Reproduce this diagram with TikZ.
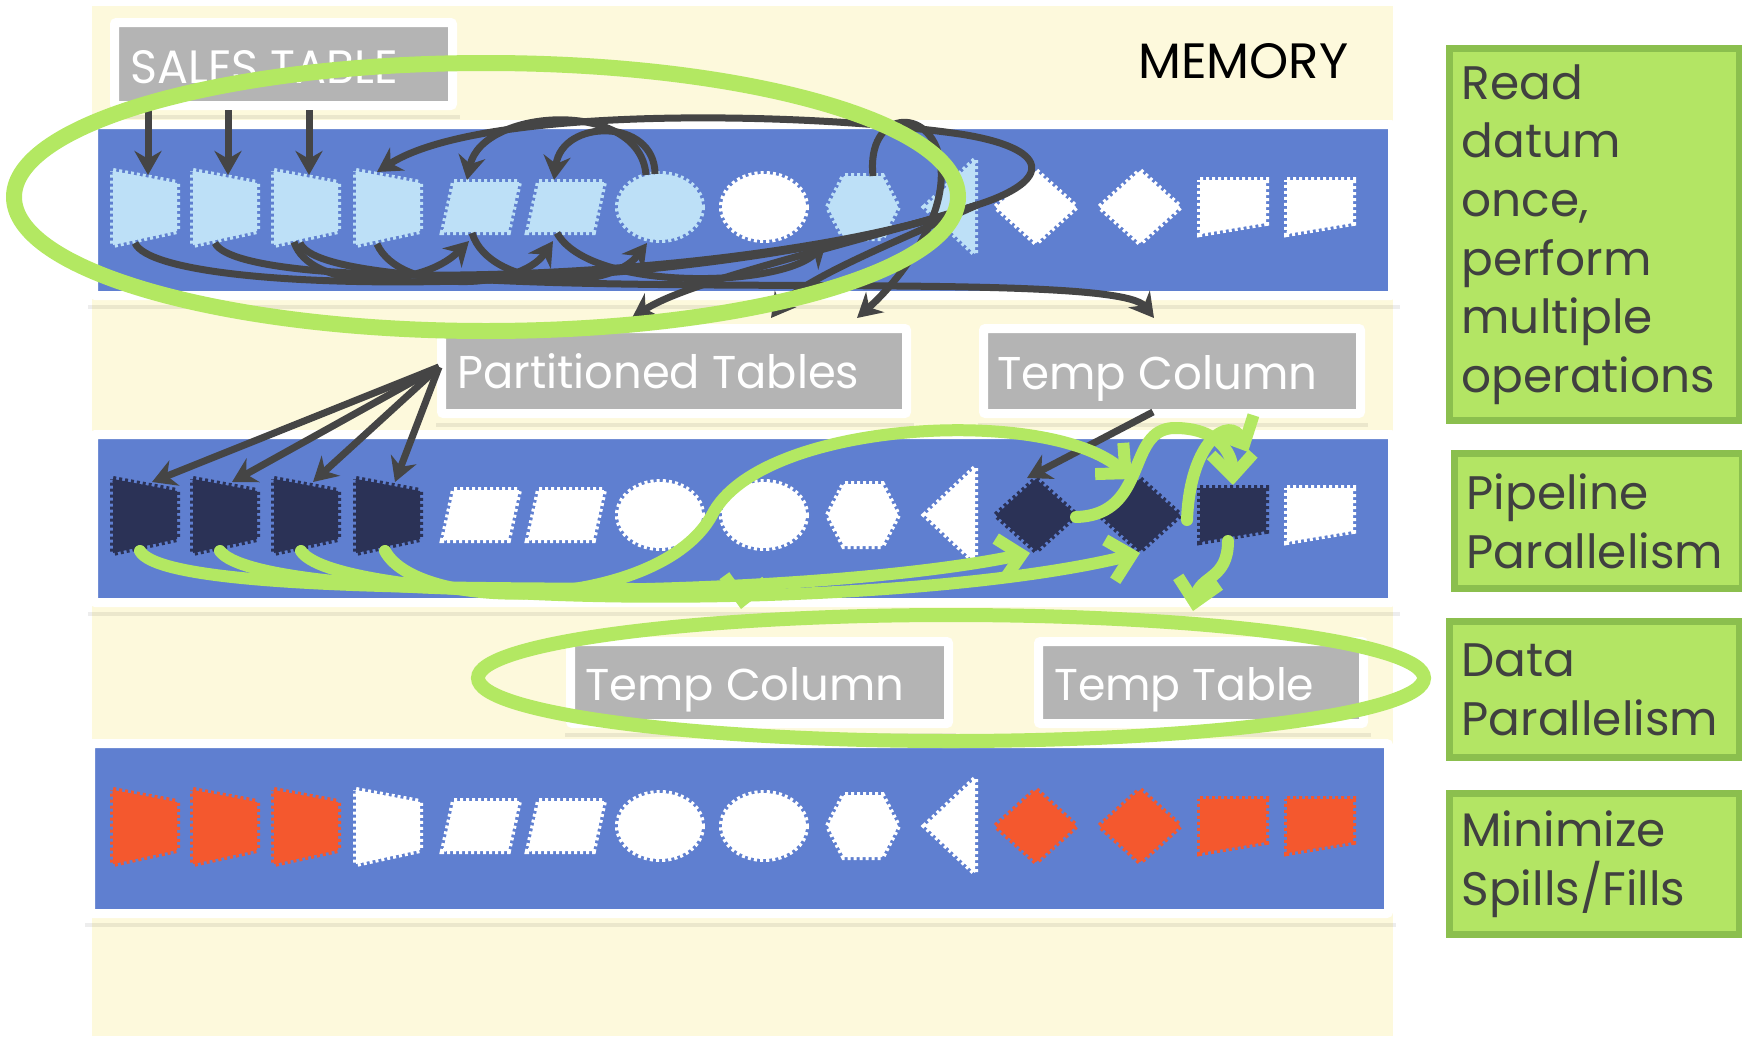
\documentclass[tikz,border=0pt]{standalone}
\usepackage{fontspec}
\usepackage{graphicx}
\usetikzlibrary{positioning,arrows.meta,calc}
\newfontfamily\gothic{Poppins}
\definecolor{cream}{HTML}{FDF9DC}
\definecolor{bandblue}{HTML}{5F7FD0}
\definecolor{lblue}{HTML}{BDE0F7}
\definecolor{navy}{HTML}{2B3256}
\definecolor{tred}{HTML}{F4582E}
\definecolor{lgray}{HTML}{B4B4B4}
\definecolor{dgray}{HTML}{454545}
\definecolor{lgreen}{HTML}{B3E862}
\definecolor{boxgreen}{HTML}{B3E564}
\definecolor{boxedge}{HTML}{8BBF4E}
\definecolor{txtgray}{HTML}{404040}
% outlines of the stamps round (0,0), y pointing down
\newcommand{\shptrap}{(-32,-36) -- (32,-24) -- (32,24) -- (-32,38) -- cycle}
\newcommand{\shppara}{(-27,-25) -- (38,-25) -- (27,25) -- (-38,25) -- cycle}
\newcommand{\shpoval}{(0,0) ellipse [x radius=42, y radius=33]}
\newcommand{\shphexa}{(-35,0) -- (-19,-31) -- (19,-31) -- (35,0) -- (19,31) -- (-19,31) -- cycle}
\newcommand{\shptri}{(23,-47) -- (23,47) -- (-27,0) -- cycle}
\newcommand{\shpdia}{(-40,0) -- (0,-36) -- (40,0) -- (0,36) -- cycle}
\newcommand{\shpsq}{(-33,-27) -- (33,-27) -- (33,16) -- (-33,27) -- cycle}
\newcommand{\fitlbl}[3]{\resizebox{#1pt}{#2pt}{\gothic #3}}

\begin{document}
\begin{tikzpicture}[x=1pt, y=-1pt,
  band/.style={fill=bandblue, draw=white, line width=9pt, inner sep=0pt, rounded corners=2pt},
  lbl/.style={fill=lgray, draw=white, line width=9pt, inner sep=0pt, rounded corners=2pt},
  shade/.style={fill=black, opacity=0.07},
  lbltext/.style={text=white, inner sep=0pt, anchor=base west},
  stamp/.style={draw=#1, fill=#1, line width=6pt, dash pattern=on 3pt off 3pt},
  darr/.style={draw=dgray, line width=7pt, -{Stealth[length=24pt, width=27pt]}},
  dline/.style={draw=dgray, line width=7pt},
  garr/.style={draw=lgreen, line width=12pt, line cap=round, -{Straight Barb[length=22pt, width=42pt]}},
  gring/.style={draw=lgreen, line width=#1},
  gbox/.style={fill=boxgreen, draw=boxedge, line width=7pt, text=txtgray, anchor=north west,
    align=left, inner sep=12pt, font=\gothic\fontsize{47}{58.7}\selectfont}]
\useasboundingbox (0,0) rectangle (1742,1036);
\fill[cream] (92,6) rectangle (1393,1036);

% memory rows
\node[band, minimum width=1299pt, minimum height=171pt] (row1) at (743,210) {};
\node[band, minimum width=1299pt, minimum height=168pt] (row2) at (743,518.5) {};
\node[band, minimum width=1298pt, minimum height=170pt] (row3) at (739.5,828.5) {};

\foreach \k/\x/\t/\ca/\cb/\cc in {1/145/trap/lblue/navy/tred, 2/225/trap/lblue/navy/tred,
    3/306/trap/lblue/navy/tred, 4/388/trap/lblue/navy/white, 5/481/para/lblue/white/white,
    6/566/para/lblue/white/white, 7/660/oval/lblue/white/white, 8/764/oval/white/white/white,
    9/863/hexa/lblue/white/white, 10/952/tri/lblue/white/white, 11/1036/dia/white/navy/tred,
    12/1140/dia/white/navy/tred, 13/1233/sq/white/navy/tred, 14/1320/sq/white/white/tred} {
  \coordinate (r1s\k) at (\x,207);
  \coordinate (r2s\k) at (\x,515);
  \coordinate (r3s\k) at (\x,826);
  \draw[stamp=\ca, shift={(\x,207)}] \csname shp\t\endcsname;
  \draw[stamp=\cb, shift={(\x,515)}] \csname shp\t\endcsname;
  \draw[stamp=\cc, shift={(\x,826)}] \csname shp\t\endcsname;
}

% tables
\node[lbl, minimum width=338pt, minimum height=83pt] (sales) at (283.5,64) {};
\node[lbl, minimum width=465pt, minimum height=85pt] (part) at (674,371) {};
\node[lbl, minimum width=377pt, minimum height=85pt] (tcol) at (1172,371) {};
\node[lbl, minimum width=378pt, minimum height=82pt] (tcol2) at (759.5,682.5) {};
\node[lbl, minimum width=325pt, minimum height=82pt] (ttab) at (1201,682.5) {};
\foreach \n in {row1,row2,row3,sales,part,tcol,tcol2,ttab}
  \fill[shade] ($(\n.south west)+(-1,4.5)$) rectangle ($(\n.south east)+(3,9)$);
\node[lbltext] (salestxt) at (130,83) {\fitlbl{268}{33}{SALES TABLE}};
\node[lbltext] (parttxt) at (457,388) {\fitlbl{402}{35}{Partitioned Tables}};
\node[lbltext] (tcoltxt) at (997,389) {\fitlbl{320}{34}{Temp Column}};
\node[lbltext] (tcol2txt) at (585,700) {\fitlbl{319}{33}{Temp Column}};
\node[lbltext] (ttabtxt) at (1054,700) {\fitlbl{260}{33}{Temp Table}};
\node[anchor=base west, inner sep=0pt] (memory) at (1138,78) {\fitlbl{210}{35}{MEMORY}};

% first row: read once
\foreach \k in {1,2,3} \draw[darr] ($(sales.south -| r1s\k)+(3,0)$) -- ($(r1s\k)+(3,-32)$);
\draw[darr] ($(r1s7)+(-5,-33)$) .. controls (655,118) and (562,118) .. ($(r1s6)+(-12,-27)$);
\draw[darr] ($(r1s7)+(-14,-32)$) .. controls (640,98) and (482,108) .. ($(r1s5)+(-14,-27)$);
\draw[darr] ($(r1s10)+(25,-2)$) .. controls (1055,180) and (1050,148) .. (960,134)
  .. controls (800,111) and (480,106) .. ($(r1s4)+(-11,-35)$);
\draw[darr] ($(r1s9)+(10,-31)$) .. controls (866,110) and (930,105) .. (940,160)
  .. controls (950,215) and (900,280) .. ($(part.north east)+(-54,-6)$);
\draw[darr] ($(r1s3)+(-12,35)$) .. controls (310,290) and (420,290) .. ($(r1s5)+(-12,34)$);
\draw[darr] ($(r1s4)+(-11,37)$) .. controls (400,295) and (520,290) .. ($(r1s6)+(-13,34)$);
\draw[darr] ($(r1s5)+(-9,26)$) .. controls (490,290) and (610,292) .. ($(r1s7)+(-13,36)$);
\draw[darr] ($(r1s6)+(-9,26)$) .. controls (590,292) and (780,288) .. ($(r1s9)+(-37,36)$);
\draw[dline] ($(r1s1)+(-10,36)$) .. controls (160,300) and (700,300) .. ($(r1s10)+(25,-2)$);
\draw[dline] ($(r1s2)+(-10,36)$) .. controls (240,295) and (750,285) .. ($(r1s10)+(25,-2)$);
\draw[darr] ($(r1s10)+(25,-2)$) .. controls (900,240) and (800,280) .. ($(part.north east)+(-140,-6)$);
\draw[darr] ($(r1s10)+(25,-2)$) .. controls (850,245) and (690,280) .. ($(part.north west)+(195,-6)$);
\draw[darr] ($(r1s3)+(-6,36)$) .. controls (330,315) and (1110,262) .. ($(tcol.north west)+(175,-6)$);

% second row: pipeline
\foreach \k in {1,...,4} \draw[darr] ($(part.west)+(2,-4)$) -- ($(r2s\k)+(7,-33)$);
\draw[darr] ($(tcol.south west)+(174,-6)$) -- ($(r2s11)+(-9,-37)$);
\draw[garr] ($(r2s1)+(-5,36)$) .. controls (170,605) and (745,580) .. ($(tcol2.north west)+(175,-28)$);
\draw[garr] ($(r2s2)+(-5,36)$) .. controls (260,605) and (800,600) .. ($(r2s11)+(-6,38)$);
\draw[garr] ($(r2s3)+(-5,36)$) .. controls (340,610) and (900,612) .. ($(r2s12)+(0,38)$);
\draw[garr] ($(r2s4)+(-3,36)$) .. controls (420,615) and (660,610) .. (712,515)
  .. controls (760,420) and (1050,405) .. ($(r2s12)+(-8,-36)$);
\draw[garr] ($(r2s11)+(40,2)$) .. controls (1150,515) and (1125,428) .. (1175,428)
  .. controls (1215,428) and (1232,450) .. ($(r2s13)+(0,-30)$);
\draw[garr] ($(r2s12)+(47,5)$) .. controls (1190,440) and (1230,415) .. ($(r2s13)+(15,-63)$);
\draw[garr] ($(r2s13)+(-5,26)$) .. controls (1228,580) and (1200,575) .. ($(ttab.north west)+(159,-26)$);

% highlight rings
\draw[gring=16pt] (486,197) ellipse [x radius=472, y radius=134];
\draw[gring=14pt] (951,678) ellipse [x radius=473, y radius=63];

% notes
\node[gbox, minimum width=290pt, minimum height=372pt, text width=266pt] (readbox) at (1446,45)
  {Read\\datum\\once,\\perform\\multiple\\operations};
\node[gbox, minimum width=288pt, minimum height=135pt, text width=264pt] (pipebox) at (1451,450)
  {Pipeline\\Parallelism};
\node[gbox, minimum width=290pt, minimum height=136pt, text width=266pt] (databox) at (1446,618)
  {Data\\Parallelism};
\node[gbox, minimum width=290pt, minimum height=141pt, text width=266pt] (spillbox) at (1446,790)
  {Minimize\\Spills/Fills};
\end{tikzpicture}
\end{document}
